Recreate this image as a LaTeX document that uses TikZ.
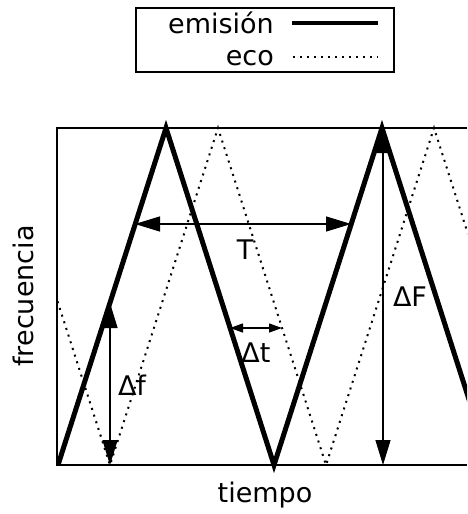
\documentclass[tikz,border=0pt]{standalone}
\usepackage{fontspec}
\setmainfont{DejaVu Sans}
\usetikzlibrary{arrows.meta}
\tikzset{
  emision/.style={line width=5pt, line join=miter},
  eco/.style={line width=2pt, dash pattern=on 2pt off 5pt},
  cota/.style={<->, line width=1.3pt},
  rotulo/.style={inner sep=0pt}
}
\begin{document}
\begin{tikzpicture}[x=1pt, y=-1pt, >={Triangle[length=25pt,width=15pt]},
    font=\fontsize{27}{32}\selectfont]
    \useasboundingbox (0,0) rectangle (467,514);
    % leyenda
    \draw[line width=1.3pt] (136,8) rectangle (394,72);
    \node[rotulo, anchor=base east] (lemision) at (274,33) {emisión};
    \node[rotulo, anchor=base east] (leco) at (274,65) {eco};
    \draw[emision, line width=4pt] (292,23) -- (378,23);
    \draw[eco] (293,57) -- (378,57);

    % ejes
    \draw[line width=1.3pt] (467,128) -- (57,128) -- (57,465) -- (467,465);
    \node[rotulo, rotate=90, anchor=base] (lfrec) at (33,296) {frecuencia};
    \node[rotulo, anchor=base] (ltiempo) at (265,502) {tiempo};

    % señales
    \begin{scope}
        \clip (57,100) rectangle (467,480);
        \draw[emision] (58,465) -- (166,128) -- (274,465) -- (382,128) -- (490,465);
        \draw[eco] (2,128) -- (110,465) -- (218,128) -- (326,465) -- (434,128) -- (542,465);
    \end{scope}

    % puntos de las cotas
    \coordinate (t1) at (135,224);
    \coordinate (t2) at (351,224);
    \coordinate (dt1) at (230,328);
    \coordinate (dt2) at (282,328);
    \coordinate (df1) at (110,303);
    \coordinate (df2) at (110,465);
    \coordinate (dF1) at (383,128);
    \coordinate (dF2) at (383,465);

    % cotas
    \draw[cota] (t1) -- (t2);
    \draw[cota, >={Triangle[length=13pt,width=9pt]}] (dt1) -- (dt2);
    \draw[cota] (df1) -- (df2);
    \draw[cota] (dF1) -- (dF2);
    \node[rotulo] (lT) at (245,250) {T};
    \node[rotulo] (ldt) at (256,353) {Δt};
    \node[rotulo] (ldf) at (132,385) {Δf};
    \node[rotulo] (ldF) at (410,297) {ΔF};
\end{tikzpicture}
\end{document}
